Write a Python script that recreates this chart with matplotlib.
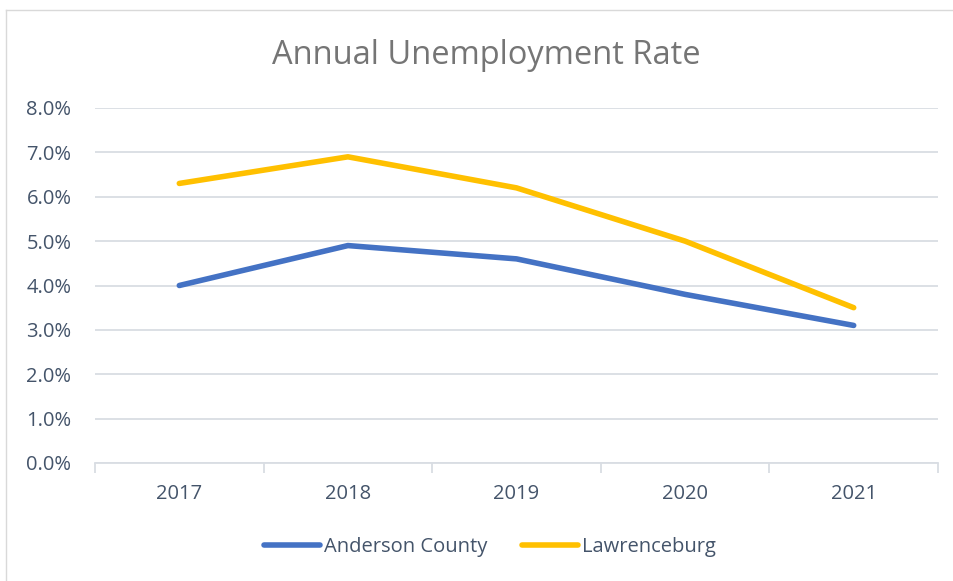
import matplotlib.pyplot as plt
from matplotlib.lines import Line2D
from matplotlib.ticker import FuncFormatter

years = ["2017", "2018", "2019", "2020", "2021"]
anderson = [4.0, 4.9, 4.6, 3.8, 3.1]
lawrenceburg = [6.3, 6.9, 6.2, 5.0, 3.5]

plt.rcParams["font.family"] = ["Open Sans", "DejaVu Sans"]
txt = "#44546A"
grid = "#D9DDE3"

fig = plt.figure(figsize=(9.54, 5.81), dpi=100)
# chart border (only top and left visible in the crop)
bx, by = 6.5 / 954, 1 - 9.5 / 581
fig.lines.append(Line2D([bx, 1], [by, by], transform=fig.transFigure, color="#D9D9D9", linewidth=1))
fig.lines.append(Line2D([bx, bx], [0, by], transform=fig.transFigure, color="#D9D9D9", linewidth=1))

ax = fig.add_axes([95 / 954, 118 / 581, 843 / 954, 355 / 581])
x = range(len(years))
ax.plot(x, anderson, color="#4472C4", linewidth=4, solid_capstyle="round", label="Anderson County")
ax.plot(x, lawrenceburg, color="#FFC000", linewidth=4, solid_capstyle="round", label="Lawrenceburg")

ax.set_xlim(-0.5, len(years) - 0.5)
ax.set_ylim(0, 8)
ax.set_yticks(range(0, 9))
ax.yaxis.set_major_formatter(FuncFormatter(lambda v, p: "%.1f%%" % v))
ax.set_xticks(list(x))
ax.set_xticklabels(years)
ax.set_xticks([i - 0.5 for i in range(len(years) + 1)], minor=True)
ax.grid(axis="y", color=grid, linewidth=1.3)
ax.set_axisbelow(True)
for s in ["top", "right", "left"]:
    ax.spines[s].set_visible(False)
ax.spines["bottom"].set_color(grid)
ax.spines["bottom"].set_linewidth(1.3)
ax.tick_params(axis="y", length=0, pad=17, labelsize=14.5, labelcolor=txt)
ax.tick_params(axis="x", which="major", length=0, pad=15, labelsize=14.5, labelcolor=txt)
ax.tick_params(axis="x", which="minor", length=7, color=grid, width=1.3)

fig.text(486 / 954, 1 - 55 / 581, "Annual Unemployment Rate", ha="center", va="center",
         fontsize=23.5, color="#757575")
fig.legend(loc="center", bbox_to_anchor=(490 / 954, 1 - 547 / 581), ncol=2, frameon=False,
           fontsize=14.5, labelcolor=txt, handlelength=2.8, handletextpad=0.2,
           columnspacing=1.7)

fig.savefig("out.png", dpi=100)
